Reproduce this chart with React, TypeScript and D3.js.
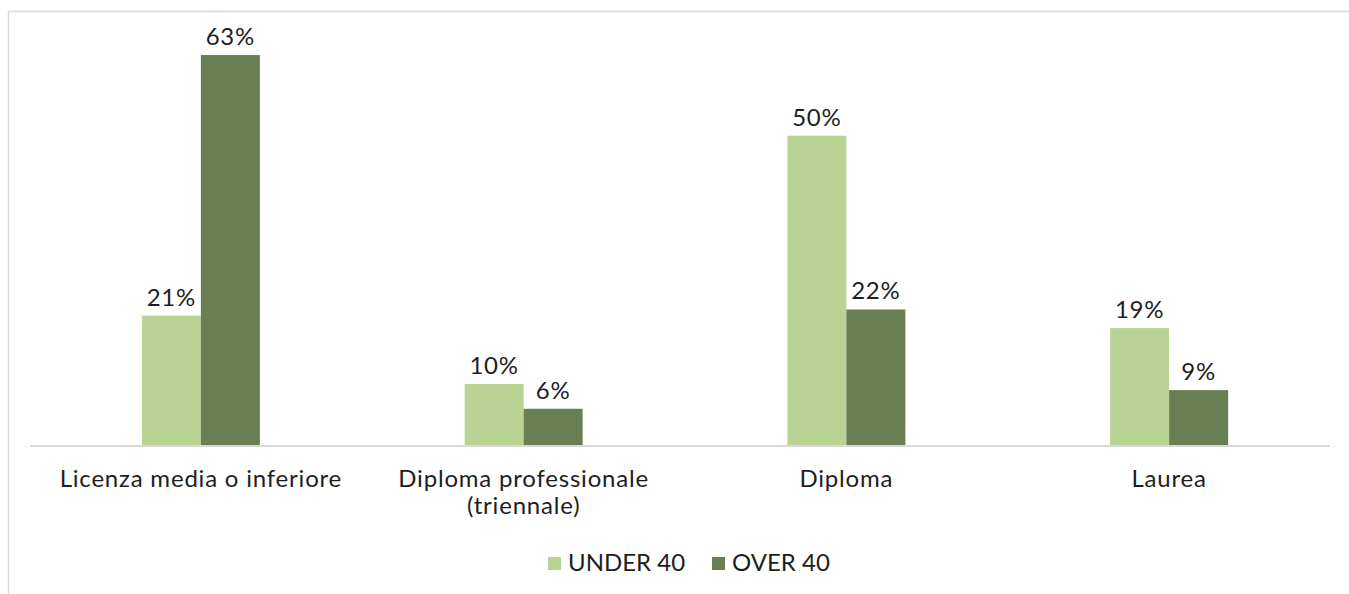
import React from "react";
import * as d3 from "d3";

const categories: string[][] = [
  ["Licenza media o inferiore"],
  ["Diploma professionale", "(triennale)"],
  ["Diploma"],
  ["Laurea"],
];
const seriesNames = ["UNDER 40", "OVER 40"];
const under40 = [0.21, 0.1, 0.5, 0.19];
const over40 = [0.63, 0.06, 0.22, 0.09];
const seriesColors = ["#b9d394", "#697f53"];

const W = 1349;
const H = 594;
const FONT = "Lato, 'Open Sans', sans-serif";
const FS = 24;
const LS = 0.8;

export default function App() {
  const keys = categories.map((_, i) => String(i));
  const x = d3.scaleBand<string>().domain(keys).range([39.5, 1330.5]).padding(0);
  const y = d3.scaleLinear().domain([0, 0.7]).range([446, 11.6]);
  const barW = 59;
  const fmt = d3.format(".0%");
  const series = [under40, over40];

  return (
    <svg
      width={W}
      height={H}
      style={{ position: "absolute", left: 0, top: 0, background: "#fff" }}
      fontFamily={FONT}
    >
      <rect x={8.5} y={11.5} width={1400} height={700} fill="none" stroke="#d9d9d9" strokeWidth={1.5} />
      {keys.map((k, i) => {
        const cx = (x(k) as number) + x.bandwidth() / 2;
        return (
          <g key={k}>
            {series.map((vals, s) => {
              const bx = cx - barW + s * barW;
              const v = vals[i];
              return (
                <g key={s}>
                  <rect x={bx} y={y(v)} width={barW} height={y(0) - y(v)} fill={seriesColors[s]} />
                  <text
                    x={bx + barW / 2}
                    y={y(v) - 10}
                    textAnchor="middle"
                    fontSize={FS}
                    letterSpacing={LS}
                    fill="#1e1e1e"
                  >
                    {fmt(v)}
                  </text>
                </g>
              );
            })}
            {categories[i].map((line, li) => (
              <text
                key={li}
                x={cx}
                y={487 + li * 27}
                textAnchor="middle"
                fontSize={FS}
                letterSpacing={LS}
                fill="#1e1e1e"
              >
                {line}
              </text>
            ))}
          </g>
        );
      })}
      <line x1={30} x2={1330} y1={446} y2={446} stroke="#d9d9d9" strokeWidth={2} />
      {seriesNames.map((name, s) => {
        const lx = s === 0 ? 548 : 712;
        return (
          <g key={name}>
            <rect x={lx} y={557} width={13} height={13} fill={seriesColors[s]} />
            <text x={lx + 20} y={571} fontSize={FS} letterSpacing={0} fill="#1e1e1e">
              {name}
            </text>
          </g>
        );
      })}
    </svg>
  );
}
